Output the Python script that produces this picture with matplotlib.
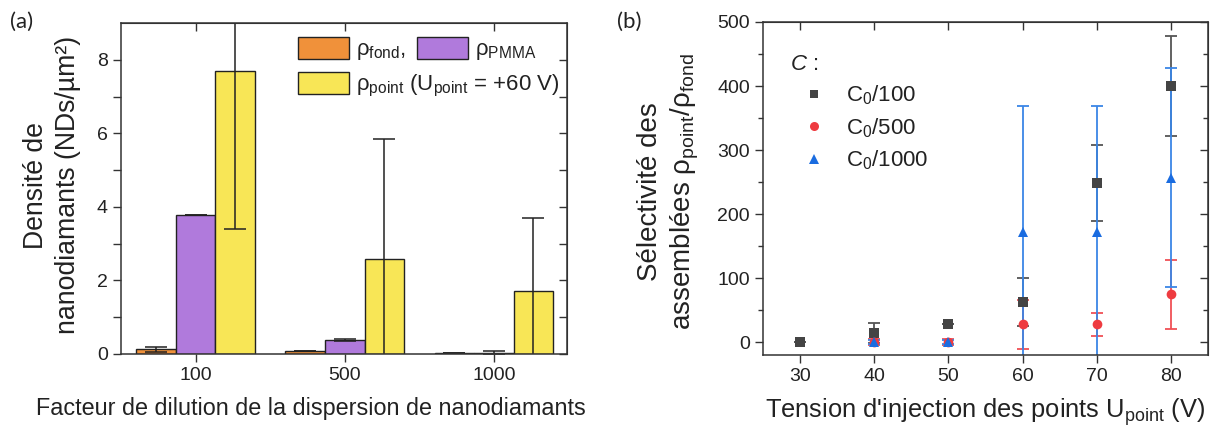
import numpy as np
import matplotlib
matplotlib.use("Agg")
import matplotlib.pyplot as plt
from matplotlib.ticker import MultipleLocator, FixedLocator
from matplotlib.patches import Patch
from matplotlib.lines import Line2D

plt.rcParams['font.family'] = ['Liberation Sans', 'DejaVu Sans']
plt.rcParams['mathtext.fontset'] = 'custom'
plt.rcParams['mathtext.rm'] = 'Liberation Sans'
plt.rcParams['mathtext.it'] = 'Liberation Sans:italic'
plt.rcParams['mathtext.bf'] = 'Liberation Sans:bold'

# ---------------- data (a) ----------------
dilution_labels = ['100', '500', '1000']
rho_fond = [0.13, 0.08, 0.02]
rho_fond_err = [0.07, 0.01, 0.0]
rho_pmma = [3.77, 0.37, 0.03]
rho_pmma_err = [0.0, 0.03, 0.06]
rho_point = [7.70, 2.57, 1.70]
rho_point_err = [4.30, 3.27, 2.00]

# ---------------- data (b) ----------------
u_point = [30, 40, 50, 60, 70, 80]
sel_c100 = [0, 14, 28, 63, 249, 400]
sel_c100_err = [0, 16, 0, 37, 59, 78]
sel_c500 = [np.nan, 0, 0, 28, 28, 75]
sel_c500_err = [np.nan, 5, 5, 38, 18, 54]
sel_c1000 = [np.nan, 0, 0, 172, 172, 257]
sel_c1000_err = [np.nan, 3, 3, 197, 197, 171]

c_orange = '#F0913A'
c_purple = '#B07ADC'
c_yellow = '#F8E656'
c_gray = '#444444'
c_red = '#EE3B40'
c_blue = '#1A6CE0'
txt = '#222222'
spine_c = '#333333'

fig = plt.figure(figsize=(12.1, 4.3), dpi=100)
axa = fig.add_axes([121/1210, 76/430, 446/1210, 331/430])
axb = fig.add_axes([763/1210, 75/430, 445/1210, 333/430])

TICK_FS = 14

def style_axes(ax):
    for s in ax.spines.values():
        s.set_color(spine_c)
        s.set_linewidth(1.1)

# ---------------- panel (a) ----------------
x = np.arange(len(dilution_labels))
w = 0.265
ekw = dict(ecolor='#222222', elinewidth=1.1, capsize=8, capthick=1.1)
axa.bar(x - w, rho_fond, w, color=c_orange, edgecolor='#222222', linewidth=1.0,
        yerr=rho_fond_err, error_kw=ekw, zorder=2)
axa.bar(x, rho_pmma, w, color=c_purple, edgecolor='#222222', linewidth=1.0,
        yerr=rho_pmma_err, error_kw=ekw, zorder=2)
axa.bar(x + w, rho_point, w, color=c_yellow, edgecolor='#222222', linewidth=1.0,
        yerr=rho_point_err, error_kw=ekw, zorder=2)
axa.set_xlim(-0.5, 2.49)
axa.set_ylim(0, 9)
axa.set_xticks(x)
axa.set_xticklabels(dilution_labels)
axa.yaxis.set_major_locator(FixedLocator([0, 2, 4, 6, 8]))
axa.yaxis.set_minor_locator(FixedLocator([1, 3, 5, 7]))
axa.tick_params(axis='both', which='major', direction='out', length=6, width=1.0,
                color=spine_c, labelsize=TICK_FS, labelcolor=txt)
axa.tick_params(axis='y', which='minor', direction='out', length=6, width=1.0, color=spine_c)
style_axes(axa)
sa_r = axa.secondary_yaxis('right')
sa_r.yaxis.set_major_locator(FixedLocator([0, 2, 4, 6, 8]))
sa_r.yaxis.set_minor_locator(FixedLocator([1, 3, 5, 7]))
sa_r.tick_params(which='both', direction='in', length=6, width=1.0, color=spine_c, labelright=False)
sa_r.spines['right'].set_color(spine_c)
sa_t = axa.secondary_xaxis('top')
sa_t.set_xticks(x)
sa_t.tick_params(direction='in', length=6, width=1.0, color=spine_c, labeltop=False)
sa_t.spines['top'].set_color(spine_c)

axa.set_xlabel('Facteur de dilution de la dispersion de nanodiamants', fontsize=16.8, color=txt)
axa.xaxis.set_label_coords(0.426, -0.13)
axa.set_ylabel('Densité de\nnanodiamants (NDs/µm²)', fontsize=19.2, color=txt, linespacing=1.3)
axa.yaxis.set_label_coords(-0.09, 0.51)

LEG_FS = 16
h_fond = Patch(facecolor=c_orange, edgecolor='#222222', linewidth=1.0)
h_pmma = Patch(facecolor=c_purple, edgecolor='#222222', linewidth=1.0)
h_point = Patch(facecolor=c_yellow, edgecolor='#222222', linewidth=1.0)
leg1 = axa.legend([h_fond, h_pmma], [r'ρ$_{\mathrm{fond}}$,', r'ρ$_{\mathrm{PMMA}}$'],
                  ncol=2, loc='upper left', bbox_to_anchor=(0.397, 0.958), frameon=False,
                  fontsize=LEG_FS, handlelength=2.3, handleheight=1.15, handletextpad=0.3,
                  columnspacing=0.5, borderpad=0, borderaxespad=0)
axa.add_artist(leg1)
leg2 = axa.legend([h_point], [r'ρ$_{\mathrm{point}}$ (U$_{\mathrm{point}}$ = +60 V)'],
                  loc='upper left', bbox_to_anchor=(0.397, 0.852), frameon=False,
                  fontsize=LEG_FS, handlelength=2.3, handleheight=1.15, handletextpad=0.3,
                  borderpad=0, borderaxespad=0)
for lg in (leg1, leg2):
    for t in lg.get_texts():
        t.set_color(txt)

# ---------------- panel (b) ----------------
series = [
    (sel_c100, sel_c100_err, 's', c_gray, '#555555', r'C$_0$/100', 6.5),
    (sel_c500, sel_c500_err, 'o', c_red, '#F05056', r'C$_0$/500', 7),
    (sel_c1000, sel_c1000_err, '^', c_blue, '#3A86E6', r'C$_0$/1000', 7.5),
]
handles = []
for vals, errs, mk, col, ecol, lab, ms in series:
    axb.errorbar(u_point, vals, yerr=errs, fmt='none', ecolor=ecol, elinewidth=1.3,
                 capsize=4.5, capthick=1.3, zorder=2)
for vals, errs, mk, col, ecol, lab, ms in series:
    axb.plot(u_point, vals, linestyle='none', marker=mk, color=col, markersize=ms,
             markeredgewidth=0, zorder=3)
    handles.append(Line2D([], [], linestyle='none', marker=mk, color=col,
                          markersize=ms - 0.5, markeredgewidth=0))
axb.set_xlim(25, 85)
axb.set_ylim(-20, 500)
axb.xaxis.set_major_locator(MultipleLocator(10))
axb.yaxis.set_major_locator(MultipleLocator(100))
axb.yaxis.set_minor_locator(MultipleLocator(50))
axb.tick_params(axis='both', which='major', direction='out', length=6, width=1.0,
                color=spine_c, labelsize=TICK_FS, labelcolor=txt)
axb.tick_params(axis='y', which='minor', direction='out', length=3.5, width=1.0, color=spine_c)
style_axes(axb)
sb_r = axb.secondary_yaxis('right')
sb_r.yaxis.set_major_locator(MultipleLocator(100))
sb_r.yaxis.set_minor_locator(MultipleLocator(50))
sb_r.tick_params(which='major', direction='in', length=6, width=1.0, color=spine_c, labelright=False)
sb_r.tick_params(which='minor', direction='in', length=3.5, width=1.0, color=spine_c)
sb_r.spines['right'].set_color(spine_c)
sb_t = axb.secondary_xaxis('top')
sb_t.xaxis.set_major_locator(MultipleLocator(10))
sb_t.tick_params(direction='in', length=6, width=1.0, color=spine_c, labeltop=False)
sb_t.spines['top'].set_color(spine_c)

axb.set_xlabel(r"Tension d'injection des points U$_{\mathrm{point}}$ (V)", fontsize=18.4, color=txt)
axb.xaxis.set_label_coords(0.499, -0.125)
axb.set_ylabel('Sélectivité des\n' + r'assemblées ρ$_{\mathrm{point}}$/ρ$_{\mathrm{fond}}$',
               fontsize=20, color=txt, linespacing=1.25)
axb.yaxis.set_label_coords(-0.14, 0.49)

legb = axb.legend(handles, [s[5] for s in series], title=r'$C$ :', loc='upper left',
                  bbox_to_anchor=(0.06, 0.905), frameon=False, fontsize=LEG_FS,
                  title_fontsize=LEG_FS, handlelength=2.2, handletextpad=0.35,
                  labelspacing=0.4, borderpad=0, borderaxespad=0, alignment='left')
for t in legb.get_texts():
    t.set_color(txt)
legb.get_title().set_color(txt)

fig.text(10/1210, 1 - 22/430, '(a)', fontsize=16, family=['Lato', 'DejaVu Sans'],
         va='center', ha='left', color=txt)
fig.text(617/1210, 1 - 22/430, '(b)', fontsize=16, family=['Lato', 'DejaVu Sans'],
         va='center', ha='left', color=txt)

fig.savefig('out.png', dpi=100)
